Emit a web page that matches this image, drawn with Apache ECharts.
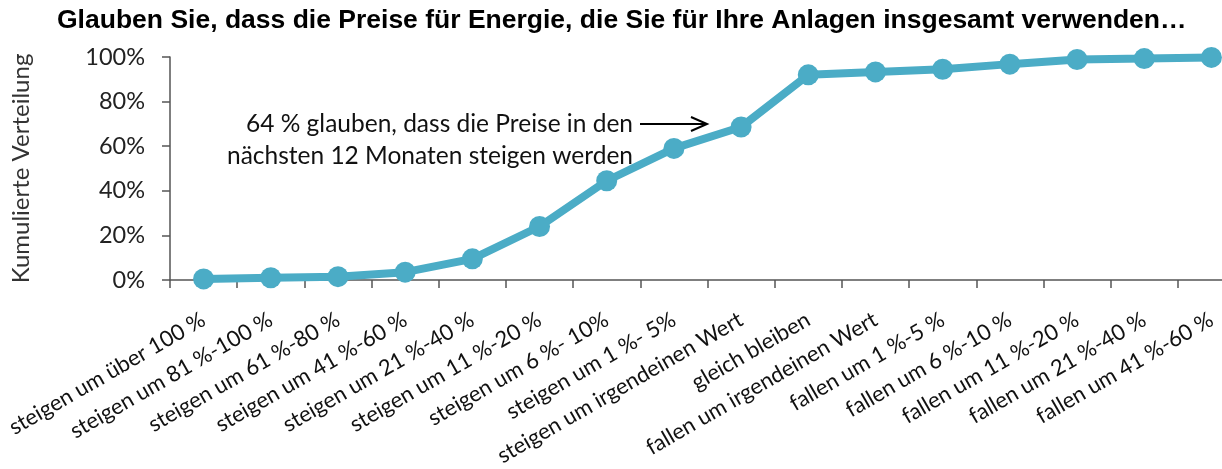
<!DOCTYPE html>
<html>
<head>
<meta charset="utf-8">
<script src="https://cdn.jsdelivr.net/npm/echarts@6/dist/echarts.min.js"></script>
<style>html,body{margin:0;padding:0;background:#fff}#c{width:1222px;height:469px}</style>
</head>
<body>
<div id="c"></div>
<script>
const titleText = 'Glauben Sie, dass die Preise für Energie, die Sie für Ihre Anlagen insgesamt verwenden…';
const yAxisName = 'Kumulierte Verteilung';
const categories = [
  'steigen um über 100 %', 'steigen um 81 %-100 %', 'steigen um 61 %-80 %', 'steigen um 41 %-60 %',
  'steigen um 21 %-40 %', 'steigen um 11 %-20 %', 'steigen um 6 %- 10%', 'steigen um 1 %- 5%',
  'steigen um irgendeinen Wert', 'gleich bleiben', 'fallen um irgendeinen Wert', 'fallen um 1 %-5 %',
  'fallen um 6 %-10 %', 'fallen um 11 %-20 %', 'fallen um 21 %-40 %', 'fallen um 41 %-60 %'
];
const cumulative = [0.5, 1, 1.5, 3.5, 9.5, 24, 44.5, 59, 68.6, 92, 93.3, 94.5, 96.8, 98.9, 99.3, 99.8];
const yTicks = [0, 20, 40, 60, 80, 100];
const annotationLines = ['64 % glauben, dass die Preise in den', 'nächsten 12 Monaten steigen werden'];

const chart = echarts.init(document.getElementById('c'));
const font = 'Lato, "Open Sans", sans-serif';
chart.setOption({
  animation: false,
  title: {
    text: titleText, left: 52, top: 2,
    textStyle: {fontFamily: '"Liberation Sans", Arial, sans-serif', fontWeight: 'bold', fontSize: 26.5, color: '#000'}
  },
  grid: {left: 170, top: 57, bottom: 189, width: 1075, containLabel: false, outerBoundsMode: 'none'},
  xAxis: {
    type: 'category', data: categories, boundaryGap: true,
    axisLine: {lineStyle: {color: '#555', width: 1.5}},
    axisTick: {show: true, length: 8, lineStyle: {color: '#555', width: 1.5}},
    axisLabel: {rotate: 30, interval: 0, margin: 38, fontSize: 22, color: '#111', fontFamily: font}
  },
  yAxis: {
    type: 'value', min: 0, max: 100, interval: 20,
    name: yAxisName, nameLocation: 'middle', nameGap: 137, nameRotate: 90,
    nameTextStyle: {fontSize: 24, color: '#333', fontFamily: font},
    splitLine: {show: false},
    axisLine: {show: true, lineStyle: {color: '#555', width: 1.5}},
    axisTick: {show: true, length: 8, lineStyle: {color: '#555', width: 1.5}},
    axisLabel: {formatter: v => yTicks.includes(v) ? v + '%' : '', fontSize: 23.5, color: '#222', margin: 25, fontFamily: font}
  },
  series: [{
    type: 'line', data: cumulative,
    symbol: 'circle', symbolSize: 21,
    lineStyle: {color: '#4BACC6', width: 8},
    itemStyle: {color: '#4BACC6'},
    clip: false
  }],
  graphic: [
    {type: 'text', right: 1222 - 633, top: 108, style: {text: annotationLines.join('\n'), textAlign: 'right', font: '24.5px ' + font, lineHeight: 32, fill: '#111'}},
    {type: 'line', shape: {x1: 640, y1: 124, x2: 707, y2: 124}, style: {stroke: '#000', lineWidth: 2}},
    {type: 'polyline', shape: {points: [[691, 117], [707, 124], [691, 131]]}, style: {stroke: '#000', lineWidth: 2, fill: null}}
  ]
});
</script>
</body>
</html>
